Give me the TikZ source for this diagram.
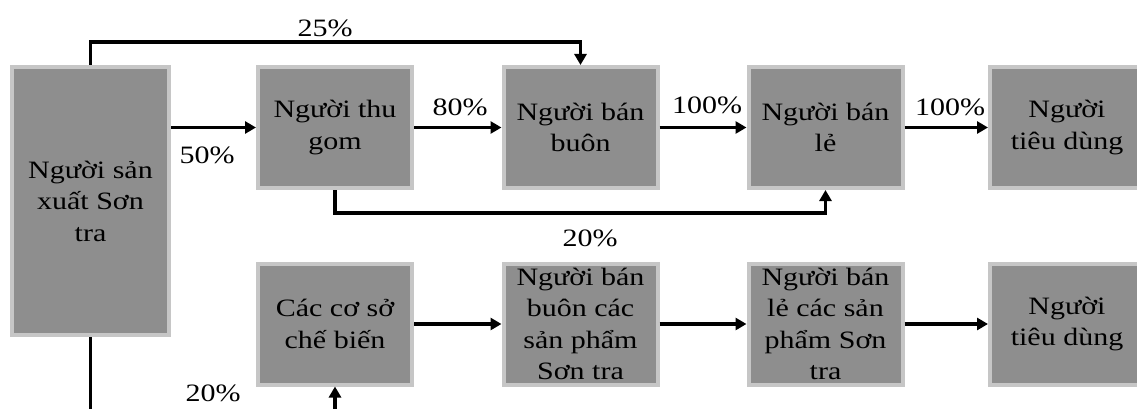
\documentclass[tikz,border=0pt]{standalone}
\usepackage{fontspec}
\setmainfont{Liberation Serif}[FakeStretch=1.2]
\usetikzlibrary{arrows.meta}
\definecolor{boxfill}{HTML}{8E8E8E}
\definecolor{boxedge}{HTML}{C6C6C6}
\begin{document}
\begin{tikzpicture}[x=1pt,y=-1pt,
  every node/.style={font=\fontsize{25}{31.5}\selectfont},
  flowbox/.style={draw=boxedge,line width=4pt,fill=boxfill,align=center,
    inner sep=0pt,minimum width=154pt,minimum height=121pt},
  arr/.style={line width=3.4pt,-{Triangle[length=11pt,width=12pt]}},
  ln/.style={line width=3.4pt}]
\useasboundingbox (0,0) rectangle (1137,409);
% boxes
\node[flowbox,minimum width=157pt,minimum height=268pt] (b1) at (90.5,201) {Người sản\\xuất Sơn\\tra};
\node[flowbox] (b2) at (335,127.5) {Người thu\\gom};
\node[flowbox] (b3) at (580.5,127.5) {Người bán\\buôn};
\node[flowbox] (b4) at (825.5,127.5) {Người bán\\lẻ};
\node[flowbox] (b5) at (1067,127.5) {Người\\tiêu dùng};
\node[flowbox] (b6) at (335,324) {Các cơ sở\\chế biến};
\node[flowbox] (b7) at (580.5,324) {Người bán\\buôn các\\sản phẩm\\Sơn tra};
\node[flowbox] (b8) at (825.5,324) {Người bán\\lẻ các sản\\phẩm Sơn\\tra};
\node[flowbox] (b9) at (1067,324) {Người\\tiêu dùng};
% helper coordinates
\coordinate (t25) at (335,42);
\coordinate (t20) at (580,213);
\coordinate (bl) at (91,415);
\coordinate (br) at (335,415);
% connectors
\draw[arr] (b1.east |- b2.west) -- (b2.west);
\draw[arr] (b2.east) -- (b3.west);
\draw[arr] (b3.east) -- (b4.west);
\draw[arr] (b4.east) -- (b5.west);
\draw[arr] (b1.north) -- (b1.north |- t25) -| (b3.north);
\draw[arr] (b2.south) -- (b2.south |- t20) -| (b4.south);
\draw[arr] (b6.east) -- (b7.west);
\draw[arr] (b7.east) -- (b8.west);
\draw[arr] (b8.east) -- (b9.west);
\draw[ln] (b1.south) -- (b1.south |- bl);
\draw[arr] (b6.south |- br) -- (b6.south);
% labels
\node (l25) at (325,28) {25\%};
\node (l50) at (207,155) {50\%};
\node (l80) at (460,107) {80\%};
\node (l100a) at (707,105) {100\%};
\node (l100b) at (950,107) {100\%};
\node (l20a) at (590,238) {20\%};
\node (l20b) at (213,393) {20\%};
\end{tikzpicture}
\end{document}
